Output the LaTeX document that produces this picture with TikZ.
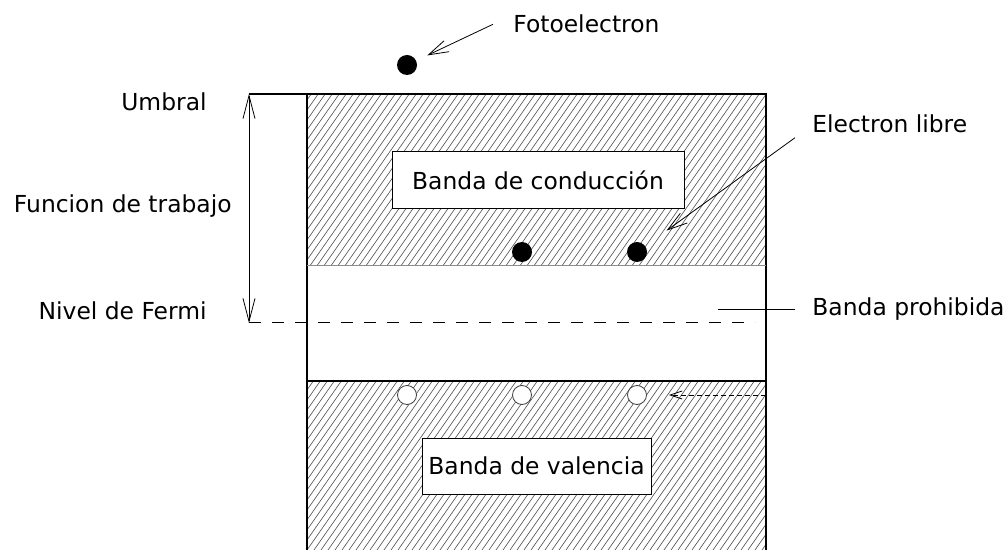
\documentclass[tikz,border=0pt]{standalone}
\usepackage{fontspec}
\setmainfont{DejaVu Sans}
\usetikzlibrary{arrows.meta}

\tikzset{
  frame/.style = {line width=0.7pt},
  hatch/.style = {black!70, line width=0.3pt},
  txt/.style = {inner sep=0pt, font=\fontsize{11.7}{14}\selectfont},
  bandbox/.style = {draw, fill=white, line width=0.5pt, inner sep=0pt,
    font=\fontsize{11.7}{14}\selectfont},
  elec/.style = {circle, fill=black, inner sep=0pt, minimum size=10pt},
  hole/.style = {circle, draw=black!75, fill=white, line width=0.4pt,
    inner sep=0pt, minimum size=9.5pt},
  pointer/.style = {-{Straight Barb[length=10pt,width=6pt]}, line width=0.4pt},
}

\begin{document}
\begin{tikzpicture}[x=0.5pt, y=-0.5pt]
      \useasboundingbox (0,0) rectangle (1006,550);

      \foreach \ya/\yb in {94/266, 381/550} {
        \begin{scope}
          \clip (307,\ya) rectangle (766,\yb);
          \foreach \i in {-120,-113,...,770}
            \draw[hatch] (\i,600) -- ++(420,-600);
        \end{scope}
      }

      \coordinate (umbral) at (249,94);
      \coordinate (fermi) at (249,323);
      \coordinate (borde) at (766,395);

      \draw[frame] (umbral) -- (766,94) -- (766,550);
      \draw[frame] (307,94) -- (307,550);
      \draw[black!45, line width=0.5pt] (307,266) -- (766,266);
      \draw[frame] (307,381) -- (766,381);

      \draw[line width=0.5pt, dash pattern=on 6pt off 5.5pt] (fermi) -- (755,323);
      \draw[line width=0.4pt,
        {Straight Barb[length=11.5pt,width=6pt]}-{Straight Barb[length=11.5pt,width=6pt]}]
        (umbral) -- (fermi);

      \node[txt, anchor=base east] (umbraltxt) at (207,111) {Umbral};
      \node[txt, anchor=base east] (funcion) at (232,213) {Funcion de trabajo};
      \node[txt, anchor=base east] (nivel) at (207,320) {Nivel de Fermi};
      \node[txt, anchor=base west] (foto) at (513,33) {Fotoelectron};
      \node[txt, anchor=base west] (libre) at (812,133) {Electron libre};
      \node[txt, anchor=base west] (prohibida) at (812,316) {Banda prohibida};

      \node[bandbox, minimum width=146pt, minimum height=28.5pt]
        (conduccion) at (538,180.5) {Banda de conducción};
      \node[bandbox, minimum width=114.5pt, minimum height=28pt]
        (valencia) at (536.5,466) {Banda de valencia};

      \node[elec] (fotoe) at (407,65) {};
      \node[elec] (e1) at (522,252) {};
      \node[elec] (e2) at (637,252) {};
      \foreach \x [count=\n] in {407,522,637}
        \node[hole] (h\n) at (\x,395) {};

      \draw[pointer, shorten >=6pt] ([xshift=-10pt]foto.west) -- (fotoe);
      \draw[pointer, shorten >=13pt] ([xshift=-8.5pt,yshift=-2pt]libre.south west) -- (e2);
      \draw[line width=0.5pt] ([xshift=-8.5pt]prohibida.west) -- ++(-38.5pt,0);
      \draw[-{Straight Barb[length=6pt,width=4pt]}, line width=0.4pt,
        dash pattern=on 2.5pt off 1.5pt, shorten >=11pt] (borde) -- (h3);

    \end{tikzpicture}
\end{document}
